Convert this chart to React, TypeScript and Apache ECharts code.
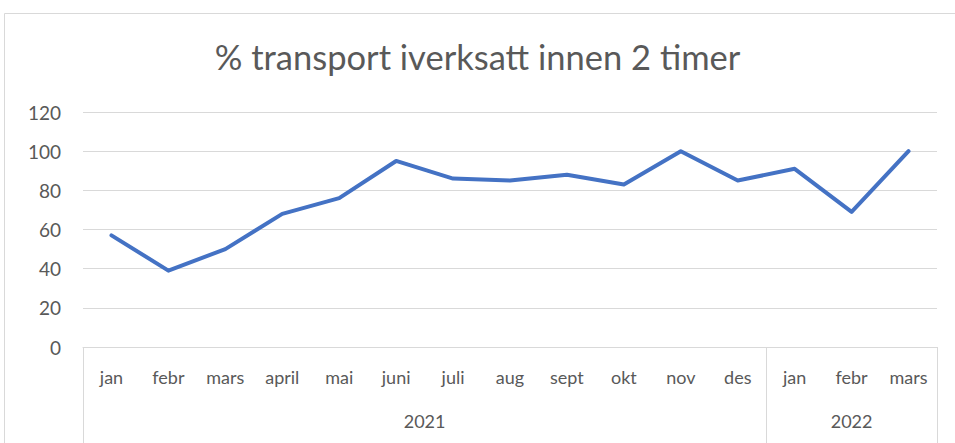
import React, { useEffect, useRef } from "react";
import * as echarts from "echarts";

const title = "% transport iverksatt innen 2 timer";
const months = ["jan", "febr", "mars", "april", "mai", "juni", "juli", "aug", "sept", "okt", "nov", "des", "jan", "febr", "mars"];
const values = [57, 39, 50, 68, 76, 95, 86, 85, 88, 83, 100, 85, 91, 69, 100];
const years = ["2021", "2022"];
const yearSpans = [12, 3];
const yTicks = { min: 0, max: 120, interval: 20 };

export default function App() {
  const ref = useRef<HTMLDivElement>(null);
  useEffect(() => {
    if (!ref.current) return;
    const chart = echarts.init(ref.current, null, { renderer: "svg" });
    const bounds: number[] = [0];
    const centers: number[] = [];
    let acc = 0;
    yearSpans.forEach((s) => {
      centers.push(acc + s / 2);
      acc += s;
      bounds.push(acc);
    });
    const font = "Lato, 'Noto Sans', sans-serif";
    chart.setOption({
      animation: false,
      backgroundColor: "#ffffff",
      title: {
        text: title,
        left: "center",
        top: 34,
        textStyle: { color: "#595959", fontSize: 34.5, fontWeight: "normal", fontFamily: font },
      },
      graphic: [
        {
          type: "rect",
          shape: { x: 4.5, y: 13.5, width: 1000, height: 500 },
          style: { fill: "none", stroke: "#d9d9d9", lineWidth: 1 },
          silent: true,
        },
      ],
      grid: { left: 83, right: 18, top: 112, bottom: 96 },
      xAxis: [
        {
          type: "category",
          data: months,
          boundaryGap: true,
          axisLine: { show: true, lineStyle: { color: "#d9d9d9", width: 1 } },
          axisTick: { show: false },
          axisLabel: { interval: 0, color: "#595959", fontSize: 18, margin: 21, fontFamily: font },
        },
        {
          type: "value",
          min: 0,
          max: months.length,
          position: "bottom",
          axisLine: { show: false },
          splitLine: { show: false },
          axisTick: {
            show: true,
            customValues: bounds,
            length: 100,
            lineStyle: { color: "#d9d9d9", width: 1 },
          },
          axisLabel: {
            customValues: centers,
            margin: 65,
            color: "#595959",
            fontSize: 18,
            fontFamily: font,
            formatter: (v: number) => {
              const i = centers.findIndex((c) => Math.abs(c - v) < 1e-6);
              return i >= 0 ? years[i] : "";
            },
          },
        },
      ],
      yAxis: {
        type: "value",
        min: yTicks.min,
        max: yTicks.max,
        interval: yTicks.interval,
        axisLine: { show: false },
        axisTick: { show: false },
        axisLabel: { color: "#595959", fontSize: 19, margin: 22, fontFamily: font },
        splitLine: { lineStyle: { color: "#d9d9d9", width: 1 } },
      },
      series: [
        {
          type: "line",
          data: values,
          xAxisIndex: 0,
          symbol: "none",
          lineStyle: { color: "#4472C4", width: 4, cap: "round", join: "round" },
        },
      ],
    });
    return () => chart.dispose();
  }, []);
  return (
    <div
      ref={ref}
      style={{ position: "fixed", left: 0, top: 0, width: 955, height: 443 }}
    />
  );
}
